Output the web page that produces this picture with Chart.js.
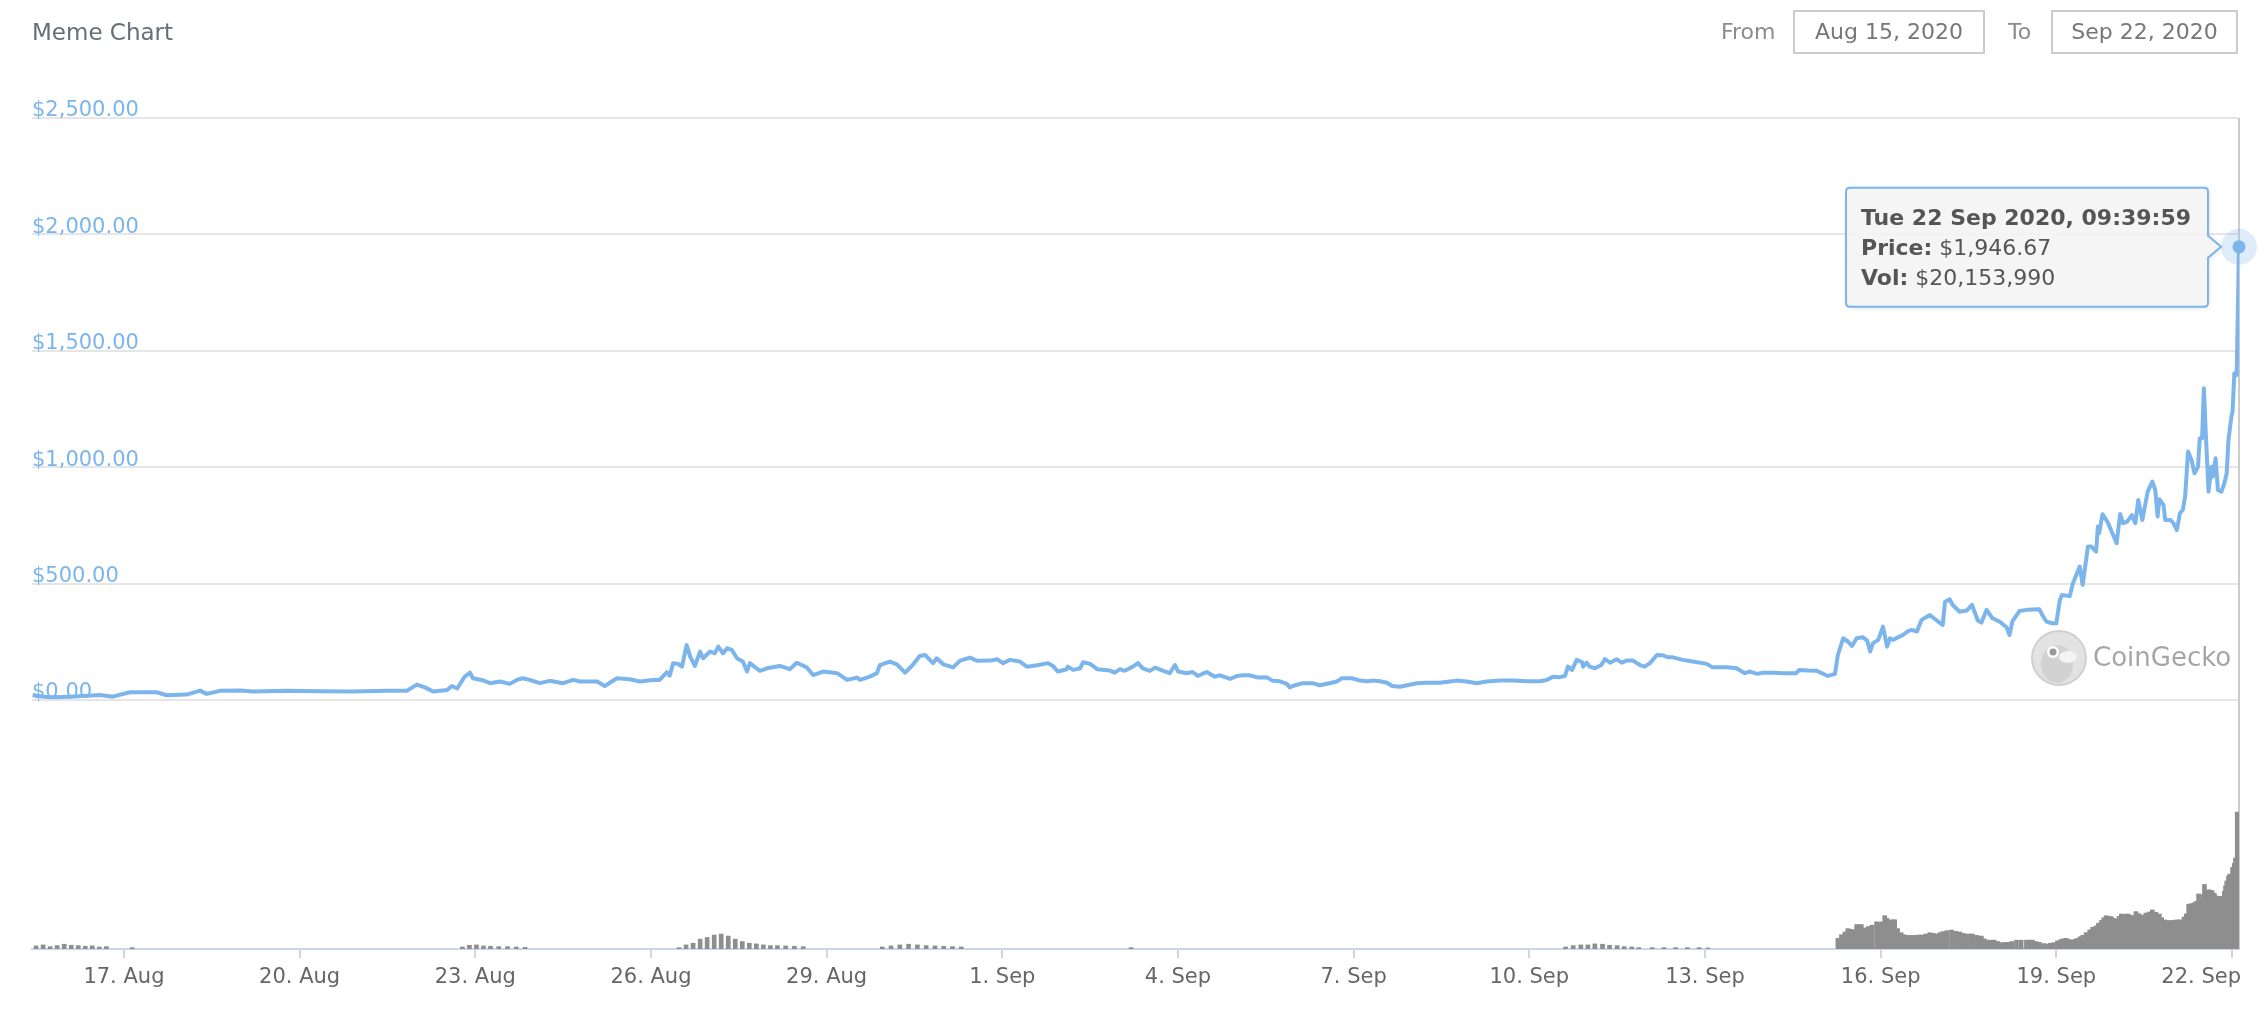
<!DOCTYPE html>
<html>
<head>
<meta charset="utf-8">
<title>Meme Chart</title>
<script src="https://cdn.jsdelivr.net/npm/chart.js@4.4.1/dist/chart.umd.min.js"></script>
<style>
  body { margin: 0; background: #fff; font-family: 'DejaVu Sans', sans-serif; }
  #wrap { position: relative; width: 2268px; height: 1022px; }
  #chart { position: absolute; left: 0; top: 0; }
  #title { position: absolute; left: 32px; top: 15px; font-size: 23px; line-height: 34px; color: #666e78; }
  .lbl { position: absolute; top: 15px; font-size: 22px; line-height: 34px; color: #8c8c8c; }
  .box { position: absolute; top: 10px; height: 40px; border: 2px solid #cccccc; font-size: 22px; line-height: 40px; color: #777; text-align: center; }
</style>
</head>
<body>
<div id="wrap">
  <canvas id="chart" width="2268" height="1022"></canvas>
  <div id="title">Meme Chart</div>
  <div class="lbl" style="left:1721px">From</div>
  <div class="box" style="left:1793px;width:188px">Aug 15, 2020</div>
  <div class="lbl" style="left:2008px">To</div>
  <div class="box" style="left:2051px;width:183px">Sep 22, 2020</div>
</div>
<script>
// days counted from 15 Aug 2020 00:00
const priceDays = [0.44,0.6,0.74,1.08,1.59,1.81,2.10,2.56,2.73,3.07,3.30,3.41,3.64,4.03,4.20,4.78,5.35,5.91,6.49,6.83,7.00,7.14,7.28,7.52,7.60,7.69,7.82,7.91,7.96,8.11,8.25,8.42,8.59,8.71,8.81,
  8.93,9.10,9.27,9.50,9.67,9.79,10.08,10.21,10.42,10.64,10.81,11.03,11.15,11.27,11.32,11.38,11.46,11.53,11.61,11.67,11.75,11.84,11.89,12.01,12.09,12.15,12.23,12.30,12.38,12.47,12.57,12.64,12.69,12.86,12.98,13.20,13.37,13.49,13.66,13.77,13.94,14.18,14.35,14.52,14.57,14.74,14.86,14.91,15.08,15.20,15.34,15.47,15.59,15.68,15.82,15.88,15.99,16.16,16.28,16.45,16.57,16.80,16.91,17.01,17.13,17.30,17.42,17.59,
  17.78,17.86,17.95,18.10,18.12,18.21,18.33,18.38,18.50,18.62,18.84,18.92,19.01,19.09,19.23,19.32,19.40,19.52,19.61,19.75,19.86,19.95,20.00,20.15,20.25,20.34,20.49,20.63,20.72,20.89,21.01,21.11,21.22,21.37,21.52,21.62,21.74,21.86,21.91,21.96,22.13,22.30,22.42,22.59,22.71,22.80,22.97,23.11,23.23,23.33,23.45,23.57,23.66,23.79,23.91,24.08,24.25,24.47,24.64,24.76,24.93,25.10,25.27,25.50,25.72,25.96,26.18,
  26.30,26.41,26.50,26.61,26.66,26.73,26.81,26.90,26.92,26.98,27.03,27.12,27.23,27.29,27.38,27.49,27.58,27.66,27.77,27.89,27.97,28.06,28.18,28.28,28.37,28.45,28.62,28.79,29.03,29.13,29.37,29.54,29.63,29.68,29.77,29.89,29.99,30.16,
  30.34,30.56,30.61,30.76,30.91,31.10,31.22,31.27,31.36,31.44,31.51,31.59,31.70,31.77,31.82,31.87,31.96,32.04,32.11,32.16,32.21,32.38,32.47,32.53,32.62,32.70,32.84,32.96,33.06,33.10,33.18,33.23,33.35,33.47,33.56,33.66,33.72,33.81,33.91,34.03,34.15,34.20,34.25,34.37,34.49,34.71,34.76,34.83,34.93,35.00,35.06,35.10,35.23,35.28,35.40,35.45,35.54,35.60,35.65,35.68,35.71,35.73,35.79,35.88,35.97,36.03,36.09,36.14,36.21,36.29,36.35,36.40,36.47,36.56,36.64,36.69,36.73,36.76,36.83,36.86,36.95,37.00,37.06,37.11,37.16,37.20,37.25,37.31,37.36,37.42,37.45,37.49,37.52,37.55,37.60,37.65,37.67,37.72,37.76,37.82,37.87,37.91,37.94,37.99,38.01,38.04,38.08,38.12];
const priceValues = [21,15,11,14,21,14,33,33,20,23,40,26,39,40,36,39,37,36,39,39,66,54,36,43,60,49,100,117,93,86,72,79,69,86,93,
  86,72,82,72,86,79,79,60,93,89,79,86,86,119,104,158,155,143,236,186,146,208,179,208,200,229,200,222,215,179,165,122,158,125,136,146,132,160,140,107,122,115,86,96,86,100,115,150,165,153,117,150,189,193,158,179,153,140,169,182,168,169,175,158,172,165,143,149,
  158,147,122,132,143,129,136,162,155,132,126,117,132,125,143,158,136,125,139,125,115,150,122,115,120,103,120,100,106,90,103,106,106,96,97,82,80,69,54,60,72,72,63,72,79,93,93,83,80,83,80,74,60,57,63,72,74,74,79,83,79,72,79,83,83,80,80,
  86,100,97,103,143,129,172,163,143,160,143,136,150,175,160,175,160,169,169,150,143,158,193,192,183,183,172,165,155,140,140,136,122,115,122,112,117,117,
  115,115,129,126,125,103,112,193,265,251,232,265,269,255,208,244,258,315,229,265,258,279,296,301,294,344,365,341,322,422,432,408,379,384,408,341,332,387,351,337,312,279,337,382,387,390,365,337,329,329,430,451,446,498,573,494,659,659,644,637,745,716,798,762,709,673,799,759,766,794,759,859,773,895,938,902,788,862,838,773,773,759,730,802,816,873,1067,1031,974,1002,1124,1124,1339,1160,895,1002,959,1038,902,895,931,974,1117,1217,1239,1403,1396,1946.67];

const volDays = [0.50,0.62,0.74,0.86,0.98,1.10,1.22,1.34,1.46,1.58,1.70,2.14,
  7.78,7.90,8.02,8.14,8.26,8.40,8.55,8.70,8.85,
  11.48,11.60,11.72,11.84,11.96,12.08,12.20,12.32,12.44,12.56,12.68,12.80,12.92,13.04,13.16,13.30,13.45,13.60,
  14.95,15.10,15.25,15.40,15.55,15.70,15.85,16.00,16.15,16.30,
  19.20,
  26.62,26.75,26.88,27.00,27.12,27.25,27.37,27.50,27.62,27.75,27.87,
  28.10,28.30,28.50,28.70,28.90,29.05,
  31.27,31.33,31.39,31.44,31.49,31.53,31.59,31.63,31.67,31.73,31.79,31.85,31.93,31.98,32.02,32.07,32.11,32.15,32.20,32.24,32.29,32.35,32.40,32.46,32.52,32.58,32.64,32.70,32.77,32.84,32.90,32.96,33.01,33.06,33.13,33.21,33.28,33.35,33.41,33.47,33.52,33.57,33.64,33.72,33.77,33.83,33.88,33.94,34.00,34.07,34.12,34.17,34.24,34.32,34.40,34.49,34.54,34.59,34.65,34.71,34.78,34.85,34.90,34.96,35.02,35.08,35.12,35.17,35.22,35.28,35.32,35.37,35.41,35.45,35.51,35.57,35.62,35.68,35.72,35.77,35.81,35.85,35.90,35.94,35.98,36.03,36.07,36.11,36.16,36.22,36.26,36.30,36.36,36.41,36.47,36.53,36.59,36.64,36.70,36.76,36.80,36.85,36.90,36.96,37.00,37.05,37.09,37.13,37.18,37.22,37.26,37.30,37.33,37.36,37.39,37.43,37.46,37.48,37.51,37.53,37.55,37.57,37.60,37.62,37.66,37.70,37.73,37.76,37.79,37.82,37.85,37.87,37.89,37.91,37.94,37.96,37.99,38.01,38.04,38.06,38.09,38.12];
const volValues = [450000,600000,350000,500000,700000,550000,500000,400000,450000,300000,350000,200000,
  300000,550000,600000,450000,400000,350000,350000,300000,250000,
  200000,600000,850000,1450000,1700000,2050000,2200000,1900000,1450000,1100000,850000,750000,600000,500000,500000,450000,400000,350000,
  300000,450000,600000,700000,600000,500000,450000,400000,350000,300000,
  200000,
  300000,500000,600000,600000,750000,700000,550000,500000,350000,300000,200000,
  200000,200000,200000,200000,200000,150000,
  1570000,2100000,2500000,3000000,2900000,2800000,3600000,3500000,3600000,3100000,3300000,3500000,4000000,3900000,4000000,4900000,4500000,4200000,4300000,4300000,3000000,2400000,2100000,2000000,2000000,2000000,2050000,2060000,2200000,2400000,2300000,2200000,2400000,2550000,2700000,2800000,2600000,2500000,2300000,2200000,2200000,2200000,2000000,1900000,1500000,1300000,1300000,1300000,1100000,930000,950000,980000,1100000,1300000,1300000,1300000,1300000,1300000,1100000,980000,800000,740000,850000,930000,1200000,1400000,1500000,1570000,1400000,1300000,1450000,1570000,1800000,2000000,2400000,2800000,3200000,3400000,3800000,4200000,4600000,4900000,4800000,4750000,4500000,4400000,4800000,5150000,5100000,5150000,5000000,4900000,5500000,5200000,5000000,5300000,5440000,5740000,5400000,5150000,4600000,4270000,4200000,4170000,4200000,4270000,4270000,4270000,4700000,5150000,6600000,6600000,6700000,6800000,7000000,8100000,7500000,7000000,8000000,9500000,8600000,8400000,8700000,8650000,8600000,8200000,7800000,7750000,7700000,7700000,7700000,8500000,9300000,10000000,10700000,11000000,11000000,12000000,12600000,13400000,20153990];

const xTickDays = [2,5,8,11,14,17,20,23,26,29,32,35,38];
const xTickLabels = ['17. Aug','20. Aug','23. Aug','26. Aug','29. Aug','1. Sep','4. Sep','7. Sep','10. Sep','13. Sep','16. Sep','19. Sep','22. Sep'];
const priceTicks = [0,500,1000,1500,2000,2500];
const tooltipDate = 'Tue 22 Sep 2020, 09:39:59';

const fmtUsd = (v, dec) => '$' + v.toLocaleString('en-US', {minimumFractionDigits: dec, maximumFractionDigits: dec});

// keep the last x label inside the plot, flush with its right edge
const justifyLastLabel = {
  id: 'justifyLastLabel',
  beforeDraw(chart) {
    const items = chart.scales.x.getLabelItems(chart.chartArea);
    const it = items[items.length - 1];
    if (!it) return;
    it.options.textAlign = 'right';
    it.options.translation = [chart.chartArea.right + 2, it.options.translation[1]];
  }
};

// crosshair, hover point, tooltip and the watermark
const overlay = {
  id: 'overlay',
  beforeDatasetsDraw(chart) {
    const c = chart.ctx, a = chart.chartArea;
    const meta = chart.getDatasetMeta(0);
    const last = meta.data[meta.data.length - 1];
    c.save();
    c.strokeStyle = '#cccccc';
    c.lineWidth = 2;
    c.beginPath();
    c.moveTo(last.x, a.top);
    c.lineTo(last.x, a.bottom);
    c.stroke();
    // CoinGecko mark
    const cx = a.right - 180, cy = chart.scales.y.getPixelForValue(0) - 42;
    c.fillStyle = '#e2e2e2';
    c.strokeStyle = '#d0d0d0';
    c.lineWidth = 2;
    c.beginPath(); c.arc(cx, cy, 27, 0, Math.PI * 2); c.fill(); c.stroke();
    c.fillStyle = '#d2d2d2';
    c.beginPath(); c.ellipse(cx - 2, cy + 6, 16, 19, 0, 0, Math.PI * 2); c.fill();
    c.fillStyle = '#f4f4f4';
    c.beginPath(); c.ellipse(cx + 9, cy - 1, 9, 6, 0, 0, Math.PI * 2); c.fill();
    c.fillStyle = '#ffffff';
    c.beginPath(); c.arc(cx - 6, cy - 6, 6, 0, Math.PI * 2); c.fill();
    c.fillStyle = '#9a9a9a';
    c.beginPath(); c.arc(cx - 6, cy - 6, 3.5, 0, Math.PI * 2); c.fill();
    c.fillStyle = '#a6a6a6';
    c.font = '26px "DejaVu Sans"';
    c.textBaseline = 'middle';
    c.fillText('CoinGecko', cx + 34, cy + 1);
    c.restore();
  },
  afterDatasetsDraw(chart) {
    const c = chart.ctx;
    const meta = chart.getDatasetMeta(0);
    const last = meta.data[meta.data.length - 1];
    const px = last.x, py = last.y;
    c.save();
    c.fillStyle = 'rgba(124,181,236,0.25)';
    c.beginPath(); c.arc(px, py, 18, 0, Math.PI * 2); c.fill();
    c.fillStyle = '#7cb5ec';
    c.beginPath(); c.arc(px, py, 6.5, 0, Math.PI * 2); c.fill();

    const price = priceValues[priceValues.length - 1];
    const vol = volValues[volValues.length - 1];
    const lines = [
      [[tooltipDate, true]],
      [['Price:', true], [' ' + fmtUsd(price, 2), false]],
      [['Vol:', true], [' ' + fmtUsd(vol, 0), false]]
    ];
    const fb = 'bold 22px "DejaVu Sans"', fn = '22px "DejaVu Sans"';
    let w = 0;
    lines.forEach(l => {
      let lw = 0;
      l.forEach(([t, b]) => { c.font = b ? fb : fn; lw += c.measureText(t).width; });
      w = Math.max(w, lw);
    });
    const right = px - 31, left = right - w - 32, top = py - 59, bottom = py + 60, r = 4;
    c.shadowColor = 'rgba(0,0,0,0.15)';
    c.shadowBlur = 5;
    c.shadowOffsetX = 1;
    c.shadowOffsetY = 1;
    c.beginPath();
    c.moveTo(left + r, top);
    c.lineTo(right - r, top);
    c.quadraticCurveTo(right, top, right, top + r);
    c.lineTo(right, py - 11);
    c.lineTo(px - 18, py);
    c.lineTo(right, py + 11);
    c.lineTo(right, bottom - r);
    c.quadraticCurveTo(right, bottom, right - r, bottom);
    c.lineTo(left + r, bottom);
    c.quadraticCurveTo(left, bottom, left, bottom - r);
    c.lineTo(left, top + r);
    c.quadraticCurveTo(left, top, left + r, top);
    c.closePath();
    c.fillStyle = 'rgba(245,245,245,0.95)';
    c.fill();
    c.shadowColor = 'transparent';
    c.strokeStyle = '#7cb5ec';
    c.lineWidth = 2;
    c.stroke();
    c.fillStyle = '#555555';
    c.textBaseline = 'middle';
    lines.forEach((l, i) => {
      let x = left + 15;
      l.forEach(([t, b]) => {
        c.font = b ? fb : fn;
        c.fillText(t, x, py - 28 + i * 30);
        x += c.measureText(t).width;
      });
    });
    c.restore();
  }
};

new Chart(document.getElementById('chart'), {
  data: {
    datasets: [{
      type: 'line',
      label: 'Price',
      data: priceDays.map((d, i) => ({x: d, y: priceValues[i]})),
      yAxisID: 'y',
      borderColor: '#7cb5ec',
      borderWidth: 4,
      borderJoinStyle: 'round',
      pointRadius: 0,
      tension: 0,
      order: 0
    }, {
      type: 'bar',
      label: 'Vol',
      data: volDays.map((d, i) => ({x: d, y: volValues[i]})),
      yAxisID: 'yv',
      backgroundColor: '#8e8e8e',
      barThickness: 4,
      order: 1
    }]
  },
  options: {
    responsive: false,
    animation: false,
    devicePixelRatio: 1,
    layout: { padding: { left: 32, right: 29, top: 118, bottom: 0 } },
    plugins: { legend: { display: false }, tooltip: { enabled: false } },
    scales: {
      x: {
        type: 'linear',
        min: 0.43,
        max: 38.12,
        offset: false,
        afterBuildTicks: s => { s.ticks = xTickDays.map(v => ({value: v})); },
        afterFit: s => { s.height = 73; s.paddingLeft = 0; s.paddingRight = 0; },
        ticks: {
          callback: v => xTickLabels[xTickDays.indexOf(v)],
          color: '#666666',
          font: { family: 'DejaVu Sans', size: 21 },
          padding: 7,
          maxRotation: 0,
          autoSkip: false
        },
        grid: { offset: false, drawOnChartArea: false, drawTicks: true, tickLength: 9, color: '#ccd6eb', lineWidth: 2 },
        border: { display: true, color: '#ccd6eb', width: 2 }
      },
      y: {
        position: 'left',
        min: -1070,
        max: 2500,
        afterBuildTicks: s => { s.ticks = priceTicks.map(v => ({value: v})); },
        ticks: {
          mirror: true,
          padding: 0,
          labelOffset: -7,
          color: '#7cb5ec',
          font: { family: 'DejaVu Sans', size: 21 },
          callback: v => fmtUsd(v, 2)
        },
        grid: { color: '#e6e6e6', lineWidth: 2, drawTicks: false },
        border: { display: false }
      },
      yv: { display: false, min: 0, max: 122250000 }
    }
  },
  plugins: [justifyLastLabel, overlay]
});
</script>
</body>
</html>
